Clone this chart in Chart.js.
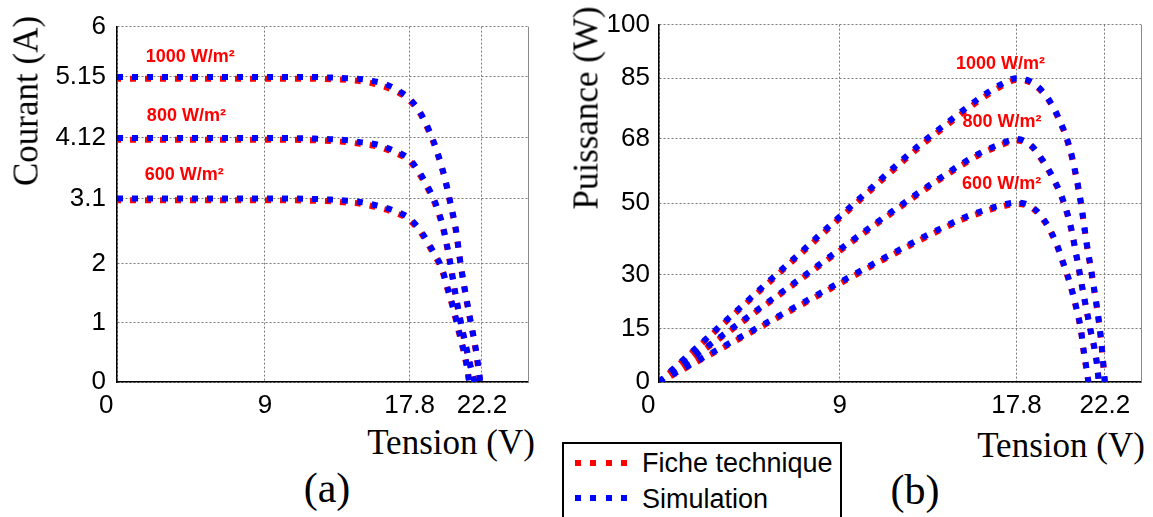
<!DOCTYPE html>
<html>
<head>
<meta charset="utf-8">
<script src="https://cdn.jsdelivr.net/npm/chart.js@4.4.1/dist/chart.umd.min.js"></script>
<style>
  html, body { margin:0; padding:0; background:#fff; }
  body { width:1153px; height:517px; position:relative; overflow:hidden; }
  canvas { position:absolute; display:block; }
  .serif { position:absolute; font-family:"Liberation Serif","Times New Roman",serif; color:#000; white-space:nowrap; line-height:1; }
  .sans { position:absolute; font-family:"Liberation Sans",Arial,sans-serif; color:#000; white-space:nowrap; line-height:1; }
  #legend { position:absolute; left:562px; top:442px; width:280px; height:100px; border:2px solid #000; box-sizing:border-box; background:#fff; }
  .sample { position:absolute; height:6px; width:54px; }
</style>
</head>
<body>
<canvas id="chartA" width="560" height="420" style="left:0;top:0"></canvas>
<canvas id="chartB" width="593" height="420" style="left:560px;top:0"></canvas>

<div class="serif" style="font-size:35px;left:26px;top:101px;transform:translate(-50%,-50%) rotate(-90deg);">Courant (A)</div>
<div class="serif" style="font-size:35px;left:586px;top:108px;transform:translate(-50%,-50%) rotate(-90deg);">Puissance (W)</div>
<div class="serif" style="font-size:35px;left:451px;top:425px;transform:translateX(-50%);">Tension (V)</div>
<div class="serif" style="font-size:35px;left:1061px;top:428px;transform:translateX(-50%);">Tension (V)</div>
<div class="serif" style="font-size:42px;left:327px;top:467px;transform:translateX(-50%);">(a)</div>
<div class="serif" style="font-size:42px;left:915px;top:469px;transform:translateX(-50%);">(b)</div>

<div id="legend">
  <span class="sample" style="left:11px;top:16px;background:repeating-linear-gradient(to right,#ff0000 0 6px,transparent 6px 15.5px);"></span>
  <span class="sample" style="left:11px;top:51px;background:repeating-linear-gradient(to right,#0000ff 0 6px,transparent 6px 15.5px);"></span>
  <span class="sans" id="lg0" style="font-size:27px;left:78px;top:6px;"></span>
  <span class="sans" id="lg1" style="font-size:27px;left:78px;top:42px;"></span>
</div>

<script>
// ---------------- data ----------------
const seriesNames = ['Fiche technique', 'Simulation'];
const irradianceLabels = ['1000 W/m²', '800 W/m²', '600 W/m²'];

// Chart (a): current vs voltage
const xTicksA = [0, 9, 17.8, 22.2];
const yTicksA = [0, 1, 2, 3.1, 4.12, 5.15, 6];

const vIV1000 = [0, 2, 4, 6, 8, 10, 12, 13, 14, 15, 15.6, 16.2, 16.8, 17.4, 17.8, 18.4, 19.0, 19.5, 20.0, 20.3, 20.6, 20.9, 21.2, 21.5, 21.8, 22.0, 22.1];
const iSim1000 = [5.15, 5.15, 5.15, 5.15, 5.15, 5.15, 5.15, 5.14, 5.13, 5.11, 5.08, 5.04, 4.97, 4.87, 4.78, 4.57, 4.24, 3.87, 3.38, 3.00, 2.60, 2.00, 1.50, 1.04, 0.60, 0.22, 0];
const iFic1000 = [5.12, 5.12, 5.12, 5.12, 5.12, 5.12, 5.12, 5.11, 5.10, 5.07, 5.04, 4.99, 4.93, 4.84, 4.75, 4.55, 4.21, 3.85, 3.36, 2.98, 2.57, 1.98, 1.47, 1.02, 0.57, 0.18, 0];

const vIV800 = [0, 2, 4, 6, 8, 10, 12, 13, 14, 14.8, 15.8, 16.8, 17.8, 18.3, 18.8, 19.4, 19.85, 20.25, 20.55, 20.85, 21.25, 21.5, 21.75];
const iSim800 = [4.12, 4.12, 4.12, 4.12, 4.12, 4.12, 4.11, 4.10, 4.08, 4.05, 4.01, 3.91, 3.76, 3.58, 3.35, 3.00, 2.60, 2.05, 1.55, 1.10, 0.58, 0.28, 0];
const iFic800 = [4.09, 4.09, 4.09, 4.09, 4.09, 4.09, 4.08, 4.07, 4.05, 4.02, 3.98, 3.88, 3.73, 3.55, 3.32, 2.97, 2.57, 2.02, 1.52, 1.07, 0.55, 0.25, 0];

const vIV600 = [0, 2, 4, 6, 8, 10, 12, 13, 14, 14.8, 15.8, 16.8, 17.8, 18.6, 19.2, 19.75, 20.15, 20.45, 20.75, 21.05, 21.3, 21.42];
const iSim600 = [3.10, 3.10, 3.10, 3.10, 3.10, 3.10, 3.09, 3.08, 3.06, 3.04, 2.98, 2.90, 2.76, 2.50, 2.22, 1.93, 1.55, 1.26, 0.92, 0.58, 0.25, 0];
const iFic600 = [3.07, 3.07, 3.07, 3.07, 3.07, 3.07, 3.06, 3.05, 3.03, 3.01, 2.95, 2.87, 2.73, 2.47, 2.19, 1.90, 1.52, 1.23, 0.89, 0.55, 0.22, 0];

// Chart (b): power vs voltage
const xTicksB = [0, 9, 17.8, 22.2];
const yTicksB = [0, 15, 30, 50, 68, 85, 100];

const vP1000 = [0, 1, 2, 3, 4, 5, 6, 7, 8, 9, 10, 11, 12, 13, 14, 15, 16, 17, 17.8, 18.5, 19.1, 19.6, 20.0, 20.3, 20.6, 21.0, 21.3, 21.6, 22.0, 22.2];
const pSim1000 = [0, 5.2, 10.3, 15.5, 20.6, 25.8, 30.9, 36.0, 41.2, 46.3, 51.4, 56.5, 61.6, 66.5, 71.0, 75.4, 79.6, 83.2, 85.0, 84.1, 81.3, 77.3, 72.6, 68.3, 62.2, 50.5, 38.7, 28.5, 12.5, 0];
const pFic1000 = [0, 5.0, 10.1, 15.2, 20.3, 25.4, 30.5, 35.6, 40.7, 45.8, 50.9, 56.0, 61.0, 65.9, 70.4, 74.8, 79.0, 82.6, 84.5, 83.8, 81.0, 77.0, 72.3, 68.0, 61.9, 50.2, 38.4, 28.2, 12.2, 0];

const vP800 = [0, 1, 2, 3, 4, 5, 6, 7, 8, 9, 10, 11, 12, 13, 14, 15, 16, 17, 17.8, 18.5, 19.1, 19.6, 20.1, 20.5, 20.8, 21.1, 21.45, 21.8, 21.9];
const pSim800 = [0, 4.1, 8.2, 12.4, 16.5, 20.6, 24.7, 28.8, 33.0, 37.1, 41.2, 45.3, 49.3, 53.3, 57.1, 60.8, 64.1, 66.6, 68.0, 66.4, 62.1, 57.4, 51.2, 43.6, 35.0, 25.8, 15.6, 5.5, 0];
const pFic800 = [0, 3.9, 8.0, 12.1, 16.2, 20.3, 24.4, 28.5, 32.6, 36.7, 40.8, 44.9, 48.9, 52.9, 56.7, 60.4, 63.7, 66.2, 67.6, 66.1, 61.8, 57.1, 50.9, 43.3, 34.7, 25.5, 15.3, 5.2, 0];

const vP600 = [0, 1, 2, 3, 4, 5, 6, 7, 8, 9, 10, 11, 12, 13, 14, 15, 16, 17, 17.8, 18.6, 19.3, 19.8, 20.15, 20.5, 20.75, 21.0, 21.15, 21.3, 21.38];
const pSim600 = [0, 3.1, 6.2, 9.3, 12.4, 15.5, 18.6, 21.7, 24.8, 27.9, 31.0, 34.1, 37.1, 40.1, 42.9, 45.6, 47.7, 49.4, 50.2, 48.9, 44.3, 38.6, 33.0, 27.0, 21.5, 15.0, 8.6, 3.3, 0];
const pFic600 = [0, 2.9, 6.0, 9.0, 12.1, 15.2, 18.3, 21.3, 24.4, 27.5, 30.6, 33.7, 36.7, 39.7, 42.5, 45.2, 47.3, 49.0, 49.8, 48.6, 44.0, 38.3, 32.7, 26.7, 21.2, 14.7, 8.3, 3.0, 0];

// annotation anchor points (data coordinates)
const annotA = [[4.45, 5.49], [4.22, 4.49], [4.09, 3.50]];
const annotB = [[17.0, 89.1], [17.08, 72.7], [17.06, 55.5]];

// ---------------- styling / builders ----------------
const RED = '#ff0000', BLUE = '#0000ff';
const TICK_FONT = { family: '"Liberation Sans", Arial, sans-serif', size: 26 };
const GRID_COLOR = '#7a7a7a';

document.getElementById('lg0').textContent = seriesNames[0];
document.getElementById('lg1').textContent = seriesNames[1];

function line(label, xs, ys, color, order, dashOffset) {
  return {
    label: label,
    data: xs.map((x, i) => ({ x: x, y: ys[i] })),
    showLine: true,
    borderColor: color,
    backgroundColor: color,
    borderWidth: 6,
    borderDash: [6, 9],
    borderDashOffset: dashOffset,
    borderCapStyle: 'butt',
    pointRadius: 0,
    pointHoverRadius: 0,
    fill: false,
    cubicInterpolationMode: 'monotone',
    order: order
  };
}

function scaleCfg(xmax, xt, ymax, yt, yWidth, yPad) {
  return {
    x: {
      type: 'linear', min: 0, max: xmax,
      afterBuildTicks: s => { s.ticks = xt.map(v => ({ value: v })); },
      afterFit: s => { s.height = 38; },
      ticks: { font: TICK_FONT, color: '#000', padding: 8, maxRotation: 0, autoSkip: false,
               callback: v => (v === 0 ? '0\u00a0\u00a0\u00a0' : String(v)) },
      grid: { color: GRID_COLOR, lineWidth: 1, drawTicks: false },
      border: { display: true, color: '#000', width: 1.5, dash: [2, 2] }
    },
    y: {
      type: 'linear', min: 0, max: ymax,
      afterBuildTicks: s => { s.ticks = yt.map(v => ({ value: v })); },
      afterFit: s => { s.width = yWidth; },
      ticks: { font: TICK_FONT, color: '#000', padding: yPad, autoSkip: false,
               callback: v => String(v) },
      grid: { color: GRID_COLOR, lineWidth: 1, drawTicks: false },
      border: { display: true, color: '#000', width: 1.5, dash: [2, 2] }
    }
  };
}

const framePlugin = {
  id: 'frame',
  beforeDatasetsDraw(chart) {
    const { ctx, chartArea } = chart;
    ctx.save();
    ctx.strokeStyle = '#8a8a8a';
    ctx.lineWidth = 1;
    ctx.beginPath();
    ctx.moveTo(Math.round(chartArea.right) + 0.5, chartArea.top);
    ctx.lineTo(Math.round(chartArea.right) + 0.5, chartArea.bottom);
    ctx.stroke();
    ctx.restore();
  }
};

function annotPlugin(points) {
  return {
    id: 'annot',
    afterDatasetsDraw(chart) {
      const { ctx } = chart;
      const xs = chart.scales.x, ys = chart.scales.y;
      ctx.save();
      ctx.fillStyle = RED;
      ctx.font = 'bold 18px "Liberation Sans", Arial, sans-serif';
      ctx.textAlign = 'center';
      ctx.textBaseline = 'middle';
      points.forEach((p, i) => {
        ctx.fillText(irradianceLabels[i], xs.getPixelForValue(p[0]), ys.getPixelForValue(p[1]));
      });
      ctx.restore();
    }
  };
}

function makeChart(id, datasets, scales, padding, annot) {
  return new Chart(document.getElementById(id), {
    type: 'scatter',
    data: { datasets: datasets },
    options: {
      responsive: false,
      animation: false,
      layout: { padding: padding },
      plugins: { legend: { display: false }, tooltip: { enabled: false } },
      scales: scales
    },
    plugins: [framePlugin, annotPlugin(annot)]
  });
}

makeChart('chartA', [
  line(seriesNames[1] + ' 1000', vIV1000, iSim1000, BLUE, 0, 0),
  line(seriesNames[1] + ' 800', vIV800, iSim800, BLUE, 0, 0),
  line(seriesNames[1] + ' 600', vIV600, iSim600, BLUE, 0, 0),
  line(seriesNames[0] + ' 1000', vIV1000, iFic1000, RED, 1, 2),
  line(seriesNames[0] + ' 800', vIV800, iFic800, RED, 1, 2),
  line(seriesNames[0] + ' 600', vIV600, iFic600, RED, 1, 2)
], scaleCfg(25, xTicksA, 6, yTicksA, 117, 11), { left: 0, top: 23, right: 32, bottom: 0 }, annotA);

makeChart('chartB', [
  line(seriesNames[1] + ' 1000', vP1000, pSim1000, BLUE, 0, 0),
  line(seriesNames[1] + ' 800', vP800, pSim800, BLUE, 0, 0),
  line(seriesNames[1] + ' 600', vP600, pSim600, BLUE, 0, 0),
  line(seriesNames[0] + ' 1000', vP1000, pFic1000, RED, 1, 2),
  line(seriesNames[0] + ' 800', vP800, pFic800, RED, 1, 2),
  line(seriesNames[0] + ' 600', vP600, pFic600, RED, 1, 2)
], scaleCfg(24, xTicksB, 100, yTicksB, 99, 9), { left: 0, top: 23, right: 12, bottom: 0 }, annotB);
</script>
</body>
</html>
